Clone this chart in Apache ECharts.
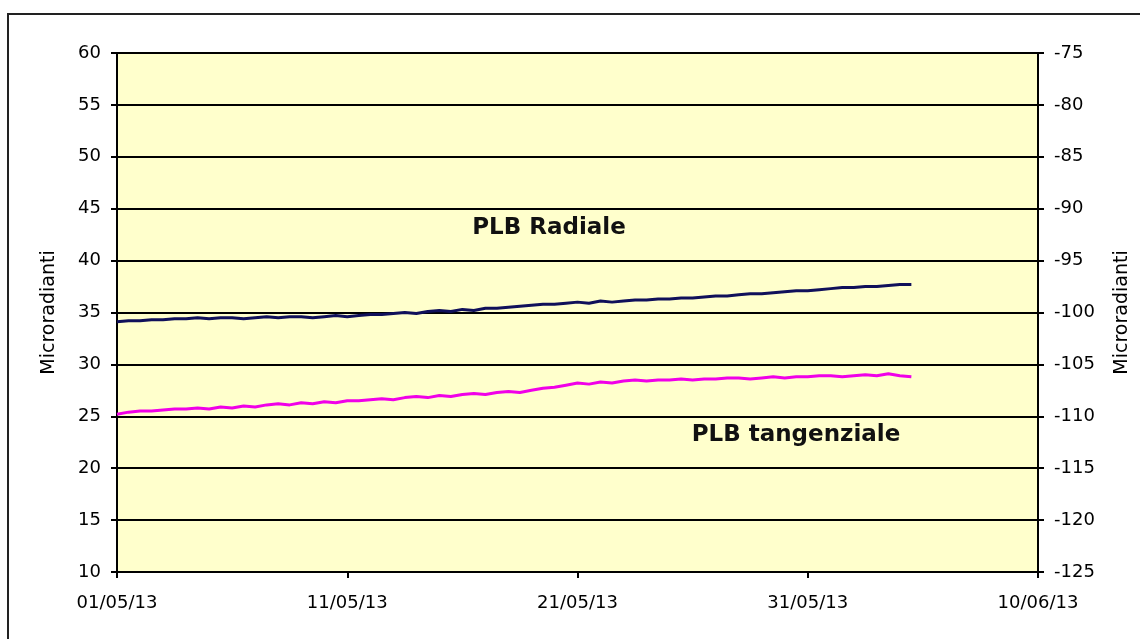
<!DOCTYPE html>
<html>
<head>
<meta charset="utf-8">
<title>PLB</title>
<script src="https://cdn.jsdelivr.net/npm/echarts@6/dist/echarts.min.js"></script>
<style>
  html, body { margin: 0; padding: 0; background: #ffffff; }
  #chart { width: 1140px; height: 639px; }
</style>
</head>
<body>
<div id="chart"></div>
<script>
// x axis: days from 01/05/13, ticks every 10 days
var xLabels = ['01/05/13', '11/05/13', '21/05/13', '31/05/13', '10/06/13'];
var stepDays = 0.5; // readings every 12 hours

// PLB Radiale (left axis, microradianti)
var radiale = [
    34.1, 34.2, 34.2, 34.3, 34.3, 34.4, 34.4, 34.5,
    34.4, 34.5, 34.5, 34.4, 34.5, 34.6, 34.5, 34.6, 34.6, 34.5, 34.6, 34.7, 34.6, 34.7,
    34.8, 34.8, 34.9, 35.0, 34.9, 35.1, 35.2,
    35.1, 35.3, 35.2, 35.4, 35.4, 35.5, 35.6, 35.7, 35.8,
    35.8, 35.9, 36.0, 35.9, 36.1, 36.0, 36.1, 36.2,
    36.2, 36.3, 36.3, 36.4, 36.4, 36.5, 36.6, 36.6, 36.7,
    36.8, 36.8, 36.9, 37.0, 37.1, 37.1, 37.2, 37.3,
    37.4, 37.4, 37.5, 37.5, 37.6, 37.7, 37.7
];

// PLB tangenziale (right axis, microradianti)
var tangenziale = [
    -109.8, -109.6, -109.5, -109.5, -109.4, -109.3, -109.3, -109.2,
    -109.3, -109.1, -109.2, -109.0, -109.1, -108.9, -108.8, -108.9, -108.7, -108.8, -108.6, -108.7, -108.5, -108.5,
    -108.4, -108.3, -108.4, -108.2, -108.1, -108.2, -108.0,
    -108.1, -107.9, -107.8, -107.9, -107.7, -107.6, -107.7, -107.5, -107.3,
    -107.2, -107.0, -106.8, -106.9, -106.7, -106.8, -106.6, -106.5,
    -106.6, -106.5, -106.5, -106.4, -106.5, -106.4, -106.4, -106.3, -106.3,
    -106.4, -106.3, -106.2, -106.3, -106.2, -106.2, -106.1, -106.1,
    -106.2, -106.1, -106.0, -106.1, -105.9, -106.1, -106.2
];

function pairs(arr) {
    return arr.map(function (v, i) { return [i * stepDays, v]; });
}

var labelFont = { color: '#000', fontFamily: 'DejaVu Sans', fontSize: 18 };

var option = {
    animation: false,
    backgroundColor: '#ffffff',
    grid: {
        left: 117,
        right: 93,
        top: 53,
        bottom: 67,
        show: true,
        backgroundColor: '#ffffcc',
        borderColor: '#888888',
        borderWidth: 1
    },
    xAxis: {
        type: 'value',
        min: 0,
        max: 40,
        interval: 10,
        axisLine: { lineStyle: { color: '#000', width: 2 } },
        axisTick: { inside: false, length: 6, lineStyle: { color: '#000', width: 2 } },
        axisLabel: {
            margin: 22,
            color: labelFont.color,
            fontFamily: labelFont.fontFamily,
            fontSize: labelFont.fontSize,
            formatter: function (v) { return xLabels[Math.round(v / 10)]; }
        },
        splitLine: { show: false }
    },
    yAxis: [
        {
            type: 'value',
            min: 10,
            max: 60,
            interval: 5,
            name: 'Microradianti',
            nameLocation: 'middle',
            nameRotate: 90,
            nameGap: 58,
            nameTextStyle: { color: '#000', fontFamily: 'DejaVu Sans', fontSize: 19 },
            axisLine: { show: true, lineStyle: { color: '#000', width: 2 } },
            axisTick: { show: true, length: 6, lineStyle: { color: '#000', width: 2 } },
            axisLabel: {
                margin: 16,
                color: labelFont.color,
                fontFamily: labelFont.fontFamily,
                fontSize: labelFont.fontSize
            },
            splitLine: { show: true, lineStyle: { color: '#000', width: 2 } }
        },
        {
            type: 'value',
            position: 'right',
            min: -125,
            max: -75,
            interval: 5,
            name: 'Microradianti',
            nameLocation: 'middle',
            nameRotate: 90,
            nameGap: 75,
            nameTextStyle: { color: '#000', fontFamily: 'DejaVu Sans', fontSize: 19 },
            axisLine: { show: true, lineStyle: { color: '#000', width: 2 } },
            axisTick: { show: true, length: 6, lineStyle: { color: '#000', width: 2 } },
            axisLabel: {
                margin: 16,
                color: labelFont.color,
                fontFamily: labelFont.fontFamily,
                fontSize: labelFont.fontSize
            },
            splitLine: { show: false }
        }
    ],
    graphic: [
        {
            type: 'rect',
            silent: true,
            z: -1,
            shape: { x: 8, y: 14, width: 1200, height: 700 },
            style: { fill: 'none', stroke: '#222', lineWidth: 2 }
        },
        {
            type: 'text',
            x: 549,
            y: 228,
            style: {
                text: 'PLB Radiale',
                fill: '#111',
                font: 'bold 23px "DejaVu Sans"',
                textAlign: 'center',
                textVerticalAlign: 'middle'
            }
        },
        {
            type: 'text',
            x: 796,
            y: 435,
            style: {
                text: 'PLB tangenziale',
                fill: '#111',
                font: 'bold 23px "DejaVu Sans"',
                textAlign: 'center',
                textVerticalAlign: 'middle'
            }
        }
    ],
    series: [
        {
            name: 'PLB Radiale',
            type: 'line',
            yAxisIndex: 0,
            showSymbol: false,
            data: pairs(radiale),
            lineStyle: { color: '#10105a', width: 3 },
            itemStyle: { color: '#10105a' }
        },
        {
            name: 'PLB tangenziale',
            type: 'line',
            yAxisIndex: 1,
            showSymbol: false,
            data: pairs(tangenziale),
            lineStyle: { color: '#f000e8', width: 3 },
            itemStyle: { color: '#f000e8' }
        }
    ]
};

var myChart = echarts.init(document.getElementById('chart'));
myChart.setOption(option);
</script>
</body>
</html>
